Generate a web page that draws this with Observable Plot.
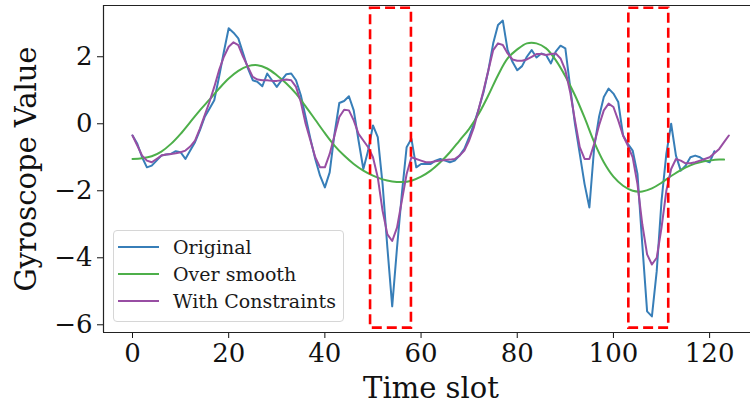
<!DOCTYPE html>
<html><head><meta charset="utf-8">
<script src="https://cdn.jsdelivr.net/npm/d3@7"></script>
<script src="https://cdn.jsdelivr.net/npm/@observablehq/plot@0.6"></script>
<style>
body{margin:0;background:#fff;}
#wrap{position:relative;width:750px;height:404px;overflow:hidden;background:#fff;}
#legend{position:absolute;left:113px;top:230px;width:231px;height:92px;border:1px solid #d6d6d6;border-radius:4px;background:rgba(255,255,255,0.85);font-family:'DejaVu Serif',serif;font-size:19px;color:#1a1a1a;box-sizing:border-box;}
.row{position:absolute;left:0;height:27px;display:flex;align-items:center;}
.row svg{margin-left:4px;margin-right:14px;}
</style></head><body><div id="wrap"></div>
<script>
// ---- data ----
const original = [
-0.35,-0.6,-1.0,-1.3,-1.25,-1.1,-0.95,-0.92,-0.9,-0.82,
-0.85,-1.05,-0.8,-0.55,-0.2,0.2,0.45,0.7,1.4,2.15,
2.85,2.72,2.55,2.1,1.65,1.3,1.25,1.12,1.5,1.3,
1.1,1.3,1.48,1.5,1.3,0.85,0.2,-0.45,-1.05,-1.55,
-1.9,-1.45,-0.3,0.62,0.68,0.82,0.4,-0.5,-1.35,-0.8,
-0.05,-0.4,-1.8,-3.7,-5.45,-3.7,-2.1,-0.7,-0.45,-1.3,
-1.2,-1.2,-1.2,-1.1,-1.05,-1.1,-1.15,-1.1,-0.95,-0.75,
-0.4,0.0,0.45,0.95,1.6,2.4,2.95,3.08,2.2,1.85,
1.6,1.72,2.0,2.2,1.98,2.1,2.05,1.8,2.15,2.33,
2.25,1.1,0.0,-0.9,-1.8,-2.5,-0.7,0.2,0.8,1.05,
0.9,0.65,-0.35,-0.6,-0.8,-1.5,-3.6,-5.6,-5.75,-4.4,
-2.3,-0.9,0.0,-0.95,-1.4,-1.25,-1.0,-0.95,-1.0,-1.1,
-1.15,-0.82
];
const overSmoothT = [0,2,4,6,8,10,12,14,16,18,20,22,24,26,28,30,32,34,36,38,40,42,44,46,48,50,52,54,56,58,60,62,64,66,68,70,72,74,76,78,80,82,84,86,88,90,92,94,96,98,100,102,104,106,108,110,112,114,116,118,120,122,123];
const overSmooth = [-1.05,-1.03,-0.97,-0.83,-0.6,-0.3,0.05,0.4,0.72,1.05,1.35,1.58,1.72,1.75,1.65,1.45,1.2,0.9,0.52,0.12,-0.28,-0.65,-0.95,-1.2,-1.4,-1.55,-1.66,-1.72,-1.74,-1.7,-1.58,-1.4,-1.15,-0.85,-0.5,-0.15,0.3,0.85,1.45,1.95,2.22,2.4,2.4,2.25,1.9,1.42,0.85,0.18,-0.55,-1.15,-1.58,-1.85,-2.0,-2.02,-1.93,-1.76,-1.56,-1.38,-1.24,-1.15,-1.1,-1.07,-1.07];
const withConstraints = [
-0.35,-0.65,-0.95,-1.1,-1.15,-1.05,-0.95,-0.92,-0.9,-0.88,
-0.85,-0.8,-0.68,-0.5,-0.15,0.25,0.65,1.1,1.6,2.0,
2.3,2.43,2.35,2.0,1.7,1.4,1.32,1.3,1.3,1.28,
1.28,1.3,1.32,1.3,1.1,0.65,0.0,-0.5,-1.0,-1.3,
-1.3,-0.9,-0.35,0.2,0.42,0.4,0.1,-0.3,-0.5,-0.7,
-1.0,-1.6,-2.6,-3.3,-3.5,-3.1,-2.3,-1.5,-1.0,-1.05,
-1.1,-1.15,-1.15,-1.12,-1.1,-1.08,-1.07,-1.05,-0.95,-0.8,
-0.5,-0.1,0.45,1.0,1.6,2.2,2.4,2.35,2.1,1.92,
1.88,1.88,1.92,2.0,2.08,2.08,2.05,2.08,2.1,1.95,
1.6,0.95,0.1,-0.7,-1.05,-1.05,-0.6,-0.05,0.4,0.6,
0.5,0.1,-0.35,-0.65,-1.0,-1.8,-3.0,-3.9,-4.2,-4.0,
-3.1,-2.0,-1.35,-1.05,-1.1,-1.18,-1.18,-1.15,-1.1,-1.05,
-1.0,-0.88,-0.75,-0.55,-0.35
];
const boxStart = [49.5, 103.2];
const boxEnd = [58.0, 111.5];
const boxLow = [-6.1, -6.1];
const boxHigh = [3.45, 3.45];
const xTicks = [0,20,40,60,80,100,120];
const yTicks = [-6,-4,-2,0,2];
const seriesNames = ["Original","Over smooth","With Constraints"];
const seriesColors = ["#377eb8","#4daf4a","#984ea3"];
const xLabel = "Time slot";
const yLabel = "Gyroscope Value";

// ---- build ----
const xDom = [-6.03, 128.5];
const yDom = [-6.23, 3.53];
const origData = original.map((v,i)=>({t:i,v}));
const smoothData = overSmooth.map((v,i)=>({t:overSmoothT[i],v}));
const consData = withConstraints.map((v,i)=>({t:i,v}));
const boxes = boxStart.map((s,i)=>({x1:s,x2:boxEnd[i],y1:boxLow[i],y2:boxHigh[i]}));

const chart = Plot.plot({
  width:750, height:404,
  marginLeft:103, marginRight:0, marginTop:5, marginBottom:72,
  style:{fontFamily:"'DejaVu Serif', serif", fontSize:"26px", color:"#111", background:"white"},
  x:{domain:xDom, ticks:xTicks, tickSize:6, tickPadding:5, label:null},
  y:{domain:yDom, ticks:yTicks, tickSize:6, tickPadding:5, label:null},
  marks:[
    Plot.line(origData,{x:"t",y:"v",stroke:seriesColors[0],strokeWidth:2}),
    Plot.line(smoothData,{x:"t",y:"v",stroke:seriesColors[1],strokeWidth:2,curve:"catmull-rom"}),
    Plot.line(consData,{x:"t",y:"v",stroke:seriesColors[2],strokeWidth:2}),
    Plot.rect(boxes,{x1:"x1",x2:"x2",y1:"y1",y2:"y2",fill:"none",stroke:"#ff0000",strokeWidth:2.6,strokeDasharray:"10,5"}),
    Plot.ruleX([xDom[0]],{stroke:"#222",strokeWidth:1.2}),
    Plot.ruleY([yDom[1]],{stroke:"#222",strokeWidth:1.2}),
    Plot.ruleY([yDom[0]],{stroke:"#222",strokeWidth:1.2}),
    Plot.text([xLabel],{frameAnchor:"bottom",textAnchor:"middle",lineAnchor:"middle",dx:4,dy:56,fontSize:29,fill:"#111"}),
    Plot.text([yLabel],{frameAnchor:"left",textAnchor:"middle",lineAnchor:"middle",dx:-77,rotate:-90,fontSize:29,fill:"#111"})
  ]
});
const wrap = document.getElementById("wrap");
wrap.appendChild(chart);

const leg = document.createElement("div");
leg.id = "legend";
seriesNames.forEach((name,i)=>{
  const row = document.createElement("div");
  row.className = "row";
  row.style.top = (2 + i*27.3) + "px";
  row.innerHTML = `<svg width="41" height="6"><line x1="0" y1="3" x2="41" y2="3" stroke="${seriesColors[i]}" stroke-width="2"/></svg><span>${name}</span>`;
  leg.appendChild(row);
});
wrap.appendChild(leg);
</script></body></html>
